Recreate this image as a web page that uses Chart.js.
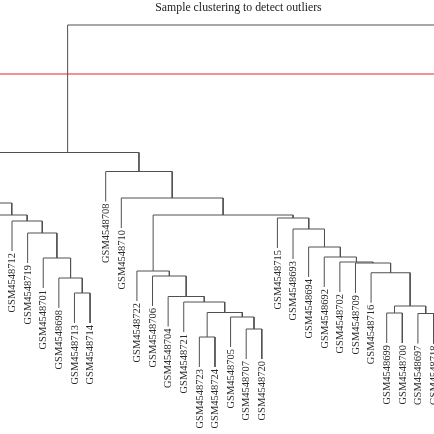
<!DOCTYPE html>
<html><head><meta charset="utf-8">
<script src="https://cdn.jsdelivr.net/npm/chart.js@4.4.0/dist/chart.umd.min.js"></script>
<style>html,body{margin:0;padding:0;background:#fff}#wrap{width:434px;height:434px;position:relative}</style>
</head><body><div id="wrap"><canvas id="c"></canvas></div>
<script>
const titleText = 'Sample clustering to detect outliers';
// leaf order along the dendrogram (left to right)
const leafOrder = ['GSM4548711','GSM4548717','GSM4548712','GSM4548719','GSM4548701','GSM4548698','GSM4548713','GSM4548714',
  'GSM4548708','GSM4548710','GSM4548722','GSM4548706','GSM4548704','GSM4548721','GSM4548723','GSM4548724','GSM4548705',
  'GSM4548707','GSM4548720','GSM4548715','GSM4548693','GSM4548694','GSM4548692','GSM4548702','GSM4548709','GSM4548716',
  'GSM4548699','GSM4548700','GSM4548697','GSM4548718','GSM4548695','GSM4548696','GSM4548703'];
// merges: child = leaf name or index of an earlier merge
const mergeLeft  = ['GSM4548723','GSM4548707','GSM4548705',0,'GSM4548721','GSM4548704','GSM4548706','GSM4548722',
  'GSM4548699','GSM4548697',8,'GSM4548716','GSM4548709','GSM4548702','GSM4548692','GSM4548694','GSM4548693','GSM4548715',
  7,'GSM4548710','GSM4548708','GSM4548713','GSM4548698','GSM4548701','GSM4548719','GSM4548712','GSM4548717','GSM4548711',
  27,'GSM4548696','GSM4548695',28];
const mergeRight = ['GSM4548724','GSM4548720',1,2,3,4,5,6,
  'GSM4548700','GSM4548718',9,10,11,12,13,14,15,16,
  17,18,19,'GSM4548714',21,22,23,24,25,26,
  20,'GSM4548703',29,30];
const mergeHeight = [25.2,28.4,33.2,35.0,39.2,41.4,49.6,51.6,
  34.8,34.6,37.6,50.9,54.8,55.2,57.2,61.2,68.4,72.8,
  74.0,80.8,91.4,42.8,48.8,56.8,66.8,71.6,74.0,78.8,
  99.0,95.0,110.0,150.0];
const cutHeight = 130.4;
const hang = 12;

const lineColor = '#505050';
const nodeX = [];
function childX(c){ return typeof c === 'string' ? leafOrder.indexOf(c) : nodeX[c]; }
const leafBottom = {};
const datasets = [];
mergeHeight.forEach((h, k) => {
  const a = mergeLeft[k], b = mergeRight[k];
  const xa = childX(a), xb = childX(b);
  nodeX[k] = (xa + xb) / 2;
  const ya = typeof a === 'string' ? h - hang : mergeHeight[a];
  const yb = typeof b === 'string' ? h - hang : mergeHeight[b];
  if (typeof a === 'string') leafBottom[a] = h - hang;
  if (typeof b === 'string') leafBottom[b] = h - hang;
  datasets.push({data:[{x:xa,y:ya},{x:xa,y:h},{x:xb,y:h},{x:xb,y:yb}],
    borderColor:lineColor, borderWidth:1, pointRadius:0, fill:false, tension:0});
});
datasets.push({data:[{x:-5,y:cutHeight},{x:40,y:cutHeight}], borderColor:'rgb(238,110,110)', borderWidth:1.3,
  pointRadius:0, fill:false, tension:0});

const labelPlugin = {
  id:'labels',
  afterDatasetsDraw(chart){
    const ctx = chart.ctx, xs = chart.scales.x, ys = chart.scales.y;
    ctx.save();
    ctx.fillStyle = '#2a2a2a';
    ctx.font = "10.5px 'Liberation Serif'";
    leafOrder.forEach((name, i) => {
      const px = xs.getPixelForValue(i), py = ys.getPixelForValue(leafBottom[name]) + 2;
      ctx.save(); ctx.translate(px, py); ctx.rotate(-Math.PI/2);
      ctx.textAlign = 'right'; ctx.textBaseline = 'middle';
      ctx.fillText(name, 0, 0.5); ctx.restore();
    });
    ctx.font = "11.8px 'Liberation Serif'";
    ctx.fillStyle = '#222';
    ctx.textAlign = 'center'; ctx.textBaseline = 'alphabetic';
    ctx.fillText(titleText, 238.5, 10.5);
    ctx.restore();
  }
};

new Chart(document.getElementById('c'), {
  type:'line',
  data:{datasets},
  options:{
    responsive:true, maintainAspectRatio:false, animation:false,
    layout:{padding:0},
    plugins:{legend:{display:false}, tooltip:{enabled:false}, title:{display:false}},
    scales:{
      x:{type:'linear', min:1.23, max:29.03, display:false},
      y:{type:'linear', min:-13.6, max:160, display:false}
    }
  },
  plugins:[labelPlugin]
});
</script></body></html>
